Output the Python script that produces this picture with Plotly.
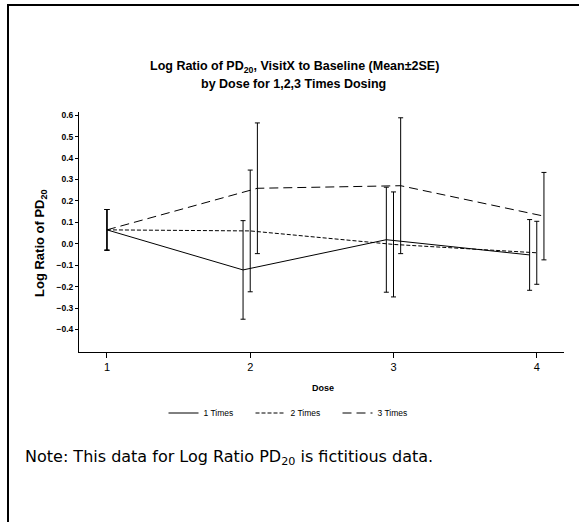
import plotly.graph_objects as go

# Dose levels and per-regimen summary statistics (mean and 2*SE of log ratio)
doses = [1, 2, 3, 4]
series_names = ["1 Times", "2 Times", "3 Times"]
mean_1x = [0.065, -0.122, 0.019, -0.052]
err_1x = [0.095, 0.230, 0.245, 0.165]
mean_2x = [0.065, 0.060, -0.003, -0.042]
err_2x = [0.095, 0.284, 0.245, 0.147]
mean_3x = [0.065, 0.259, 0.271, 0.129]
err_3x = [0.095, 0.305, 0.317, 0.204]
y_ticks = [-0.4, -0.3, -0.2, -0.1, 0.0, 0.1, 0.2, 0.3, 0.4, 0.5, 0.6]

# Horizontal jitter so the error bars of the regimens do not overlap
jitter = {"1 Times": -0.05, "2 Times": 0.0, "3 Times": 0.05}
dash_style = {"1 Times": "solid", "2 Times": "4px,2px", "3 Times": "9px,5px"}

FONT = "Liberation Sans"

# Plot-area geometry in pixels (for placing paper-referenced annotations)
W, H = 579, 522
L, R, T, B = 79, 15, 112, 170
PW, PH = W - L - R, H - T - B


def px_x(px):
    return (px - L) / PW


def px_y(py):
    return (H - B - py) / PH


fig = go.Figure()
for name, m, e in zip(series_names, [mean_1x, mean_2x, mean_3x], [err_1x, err_2x, err_3x]):
    xs = [d + (jitter[name] if d > 1 else 0.0) for d in doses]
    fig.add_trace(go.Scatter(
        x=xs, y=m, name=name, mode="lines",
        line=dict(color="black", width=1, dash=dash_style[name]),
        error_y=dict(type="data", array=e, visible=True,
                     color="black", thickness=1, width=2.5),
    ))

fig.update_layout(
    width=W, height=H,
    margin=dict(l=L, r=R, t=T, b=B),
    paper_bgcolor="white", plot_bgcolor="white",
    font=dict(family=FONT, color="black"),
    showlegend=True,
    legend=dict(
        orientation="h", x=px_x(294), xanchor="center",
        y=px_y(413), yanchor="middle",
        font=dict(family=FONT, size=8.5),
        entrywidth=42, entrywidthmode="pixels",
        itemwidth=30, tracegroupgap=0,
    ),
    xaxis=dict(
        range=[0.805, 4.19], tickvals=doses, ticktext=[str(d) for d in doses],
        showline=True, linecolor="black", linewidth=1,
        ticks="outside", ticklen=5, tickcolor="black",
        showgrid=False, zeroline=False,
        tickfont=dict(family=FONT, size=11),
    ),
    yaxis=dict(
        range=[-0.505, 0.615], tickvals=y_ticks, tickformat=".1f",
        showline=True, linecolor="black", linewidth=1,
        ticks="outside", ticklen=3, tickcolor="black",
        showgrid=False, zeroline=False,
        tickfont=dict(family=FONT, size=8.5, weight="bold"),
    ),
)

annotations = [
    dict(text="<b>Log Ratio of PD<sub>20</sub>, VisitX to Baseline (Mean±2SE)</b>",
         x=px_x(294), y=px_y(67), font=dict(size=12.5)),
    dict(text="<b>by Dose for 1,2,3 Times Dosing</b>",
         x=px_x(293), y=px_y(84), font=dict(size=12.5)),
    dict(text="<b>Dose</b>", x=px_x(323), y=px_y(388), font=dict(size=9)),
    dict(text="<b>Log Ratio of PD<sub>20</sub></b>", x=px_x(40), y=px_y(243),
         textangle=-90, font=dict(size=13)),
    dict(text="Note: This data for Log Ratio PD<sub>20</sub> is fictitious data.",
         x=px_x(23), y=px_y(457), xanchor="left",
         font=dict(family="DejaVu Sans", size=16)),
]
for a in annotations:
    a.setdefault("xanchor", "center")
    fig.add_annotation(xref="paper", yref="paper", yanchor="middle",
                       showarrow=False, **a)

# Frame around the whole graphic (left and top edges visible)
fig.add_shape(type="rect", xref="paper", yref="paper",
              x0=px_x(8), x1=px_x(W + 10), y0=px_y(H + 10), y1=px_y(5),
              line=dict(color="black", width=2), layer="below")

fig.write_html("out.html")
